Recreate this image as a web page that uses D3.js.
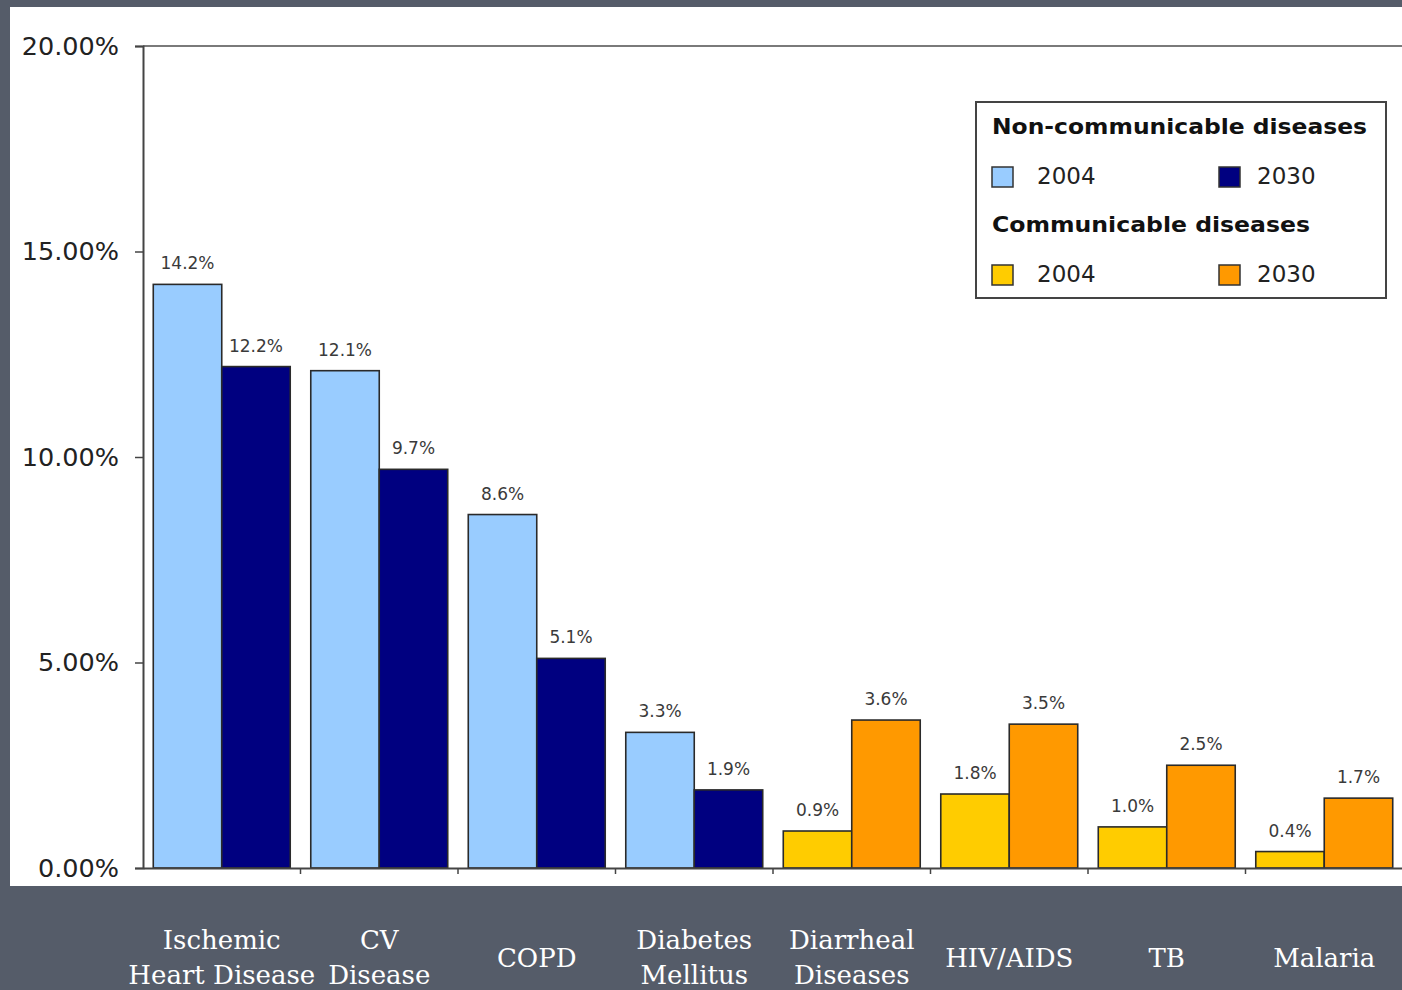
<!DOCTYPE html>
<html><head><meta charset="utf-8">
<script src="https://cdn.jsdelivr.net/npm/d3@7"></script>
<style>html,body{margin:0;padding:0;background:#555c69;}svg{display:block;}</style>
</head><body>
<script>
const categories = ["Ischemic\nHeart Disease","CV\nDisease","COPD","Diabetes\nMellitus","Diarrheal\nDiseases","HIV/AIDS","TB","Malaria"];
const groupType = ["nc","nc","nc","nc","c","c","c","c"];
const years = ["2004","2030"];
const values2004 = [14.2,12.1,8.6,3.3,0.9,1.8,1.0,0.4];
const values2030 = [12.2,9.7,5.1,1.9,3.6,3.5,2.5,1.7];
const yTicks = [0,5,10,15,20];
const legendGroups = ["Non-communicable diseases","Communicable diseases"];

const W=1402,H=990;
const colors = {nc:{"2004":"#99ccff","2030":"#000080"}, c:{"2004":"#ffcc00","2030":"#ff9900"}};
const svg=d3.select("body").append("svg").attr("width",W).attr("height",H);
svg.append("rect").attr("width",W).attr("height",H).attr("fill","#555c69");
svg.append("rect").attr("x",10).attr("y",7).attr("width",W-10).attr("height",879).attr("fill","#ffffff");

const x0=d3.scaleBand().domain(categories).range([143,1403]).padding(0);
const x1=d3.scaleBand().domain(years).range([0,x0.bandwidth()]).paddingInner(0).paddingOuter(0.15);
const y=d3.scaleLinear().domain([0,20]).range([868,46]);

// top border line
svg.append("line").attr("x1",143).attr("x2",W).attr("y1",y(20)).attr("y2",y(20)).attr("stroke","#7a7a7a").attr("stroke-width",2);

// y axis
const yAxis=d3.axisLeft(y).tickValues(yTicks).tickSize(8).tickFormat(d=>d3.format(".2f")(d)+"%");
const ga=svg.append("g").attr("transform","translate(143,0)").call(yAxis);
ga.select(".domain").attr("stroke","#444").attr("stroke-width",2);
ga.selectAll(".tick line").attr("stroke","#444").attr("stroke-width",1.5);
ga.selectAll(".tick text").attr("x",-24).attr("font-family","DejaVu Sans").attr("font-size",25.5).attr("fill","#222");

// bars
const data=categories.map((c,i)=>({cat:c,type:groupType[i],vals:[{year:"2004",v:values2004[i]},{year:"2030",v:values2030[i]}]}));
const g=svg.append("g");
const grp=g.selectAll("g.cat").data(data).join("g").attr("transform",d=>`translate(${x0(d.cat)},0)`);
grp.selectAll("rect").data(d=>d.vals.map(v=>({...v,type:d.type}))).join("rect")
  .attr("x",d=>x1(d.year)).attr("width",x1.bandwidth())
  .attr("y",d=>y(d.v)).attr("height",d=>y(0)-y(d.v))
  .attr("fill",d=>colors[d.type][d.year]).attr("stroke","#2a2a2a").attr("stroke-width",1.6);
grp.selectAll("text.val").data(d=>d.vals).join("text").attr("class","val")
  .attr("x",d=>x1(d.year)+x1.bandwidth()/2).attr("y",d=>y(d.v)-20)
  .attr("text-anchor","middle").attr("dominant-baseline","middle")
  .attr("font-family","DejaVu Sans").attr("font-size",17).attr("fill","#3a3a3a")
  .text(d=>d.v.toFixed(1)+"%");

// x axis baseline and ticks
const xAxis=d3.axisBottom(x0).tickValues([]).tickSizeOuter(0);
const gx=svg.append("g").attr("transform",`translate(0,${y(0)})`).call(xAxis);
gx.select(".domain").attr("stroke","#444").attr("stroke-width",2);
gx.selectAll(".bt").data(categories.slice(1)).join("line").attr("class","bt")
  .attr("x1",d=>x0(d)).attr("x2",d=>x0(d)).attr("y1",0).attr("y2",6).attr("stroke","#444").attr("stroke-width",1.5);

// category labels
const cl=svg.append("g");
categories.forEach(c=>{
  const lines=c.split("\n");
  const cx=x0(c)+x0.bandwidth()/2;
  const t=cl.append("text").attr("text-anchor","middle").attr("font-family","DejaVu Serif").attr("font-size",26).attr("fill","#ffffff");
  if(lines.length===1){
    t.append("tspan").attr("x",cx).attr("y",960).attr("dominant-baseline","middle").text(lines[0]);
  } else {
    lines.forEach((l,k)=>t.append("tspan").attr("x",cx).attr("y",942+k*35).attr("dominant-baseline","middle").text(l));
  }
});

// legend
const lg=svg.append("g");
lg.append("rect").attr("x",976).attr("y",102).attr("width",410).attr("height",196).attr("fill","#fff").attr("stroke","#444").attr("stroke-width",2);
const types=["nc","c"];
const titleLen=[375,318];
legendGroups.forEach((name,gi)=>{
  const top=128+gi*98;
  lg.append("text").attr("x",992).attr("y",top).attr("dominant-baseline","middle")
    .attr("font-family","DejaVu Sans").attr("font-weight","bold").attr("font-size",21)
    .attr("textLength",titleLen[gi]).attr("lengthAdjust","spacingAndGlyphs")
    .attr("fill","#111").text(name);
  years.forEach((yr,k)=>{
    const sx=992+k*227, sy=top+49;
    lg.append("rect").attr("x",sx).attr("y",sy-10).attr("width",21).attr("height",20)
      .attr("fill",colors[types[gi]][yr]).attr("stroke","#333").attr("stroke-width",1.5);
    lg.append("text").attr("x",sx+(k===0?45:38)).attr("y",sy).attr("dominant-baseline","middle")
      .attr("font-family","DejaVu Sans").attr("font-size",23).attr("fill","#222").text(yr);
  });
});
</script>
</body></html>
